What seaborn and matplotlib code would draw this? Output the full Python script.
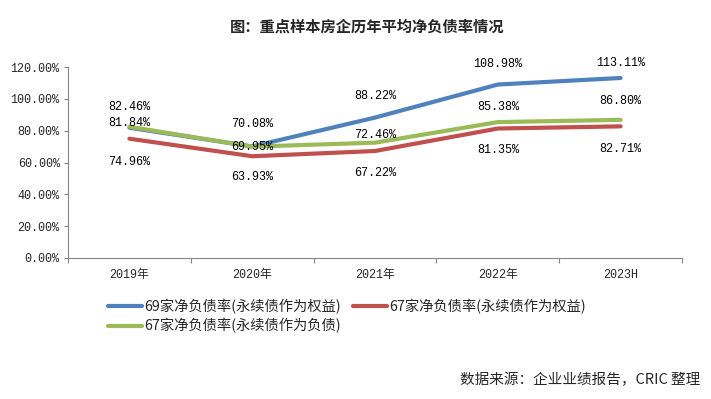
import pandas as pd
import matplotlib
matplotlib.use("Agg")
import matplotlib.pyplot as plt
from matplotlib.lines import Line2D
from matplotlib.ticker import FixedLocator
import seaborn as sns

# chart data
years = ["2019年", "2020年", "2021年", "2022年", "2023H"]
series_names = ["69家净负债率(永续债作为权益)", "67家净负债率(永续债作为权益)", "67家净负债率(永续债作为负债)"]
blue_vals = [81.84, 70.08, 88.22, 108.98, 113.11]
red_vals = [74.96, 63.93, 67.22, 81.35, 82.71]
green_vals = [82.46, 69.95, 72.46, 85.38, 86.80]

colors = ["#4F81BD", "#C0504D", "#9BBB59"]
# label offsets in pixels (vertical), per series
label_dy = [
    [5, 22, 22, 21, 15],
    [-23, -21, -22, -21, -23],
    [20, 0, 8, 15, 19],
]

sns.set_theme(style="white")
num_font = ["Liberation Mono", "Noto Sans CJK SC"]
cjk_font = ["Noto Sans CJK SC", "DejaVu Sans"]
plt.rcParams["font.family"] = cjk_font

df = pd.DataFrame({
    "year": years * 3,
    "value": blue_vals + red_vals + green_vals,
    "series": [series_names[0]] * 5 + [series_names[1]] * 5 + [series_names[2]] * 5,
})

fig = plt.figure(figsize=(7.11, 3.99), dpi=100)
ax = fig.add_axes([68 / 711, 1 - 258 / 399, 614 / 711, 191 / 399])

sns.lineplot(data=df, x="year", y="value", hue="series", hue_order=series_names,
             palette=colors, linewidth=3, ax=ax, legend=False, sort=False)

# data labels
for vals, dys in zip([blue_vals, red_vals, green_vals], label_dy):
    for i, (v, dy) in enumerate(zip(vals, dys)):
        ax.annotate(f"{v:.2f}%", xy=(i, v), xytext=(0, dy), textcoords="offset pixels",
                    ha="center", va="center", fontsize=8.5, family=num_font, color="black")

ax.set_xlim(-0.5, 4.5)
ax.set_ylim(0, 120)
ax.set_yticks(range(0, 121, 20))
ax.set_yticklabels([f"{t:.2f}%" for t in range(0, 121, 20)], family=num_font, fontsize=8.5)
ax.set_xticks(range(len(years)))
ax.set_xticklabels(years, family=num_font, fontsize=8.5)
ax.xaxis.set_minor_locator(FixedLocator([-0.5, 0.5, 1.5, 2.5, 3.5, 4.5]))
ax.tick_params(axis="x", which="major", length=0, pad=8)
ax.tick_params(axis="x", which="minor", length=3.6, width=0.8, color="#868686", direction="out", bottom=True)
ax.tick_params(axis="y", length=3, width=0.8, color="#868686", direction="out", left=True, pad=3)
ax.set_xlabel("")
ax.set_ylabel("")
for s in ["top", "right"]:
    ax.spines[s].set_visible(False)
for s in ["left", "bottom"]:
    ax.spines[s].set_color("#868686")
    ax.spines[s].set_linewidth(0.8)

fig.text(367 / 711, 1 - 27 / 399, "图：重点样本房企历年平均净负债率情况", ha="center", va="center",
         fontsize=11, fontweight="bold", family=cjk_font)

handles = [Line2D([0], [0], color=colors[0], lw=3),
           Line2D([0], [0], color=colors[2], lw=3),
           Line2D([0], [0], color=colors[1], lw=3)]
labels = [series_names[0], series_names[2], series_names[1]]
fig.legend(handles, labels, ncol=2, loc="upper left", bbox_to_anchor=(108 / 711, 1 - 299 / 399),
           frameon=False, fontsize=10.3, handlelength=2.4, handletextpad=0.15,
           columnspacing=0.8, labelspacing=0.3, borderpad=0, borderaxespad=0)

fig.text(700 / 711, 1 - 380 / 399, "数据来源：企业业绩报告，CRIC 整理", ha="right", va="center",
         fontsize=10.5, family=cjk_font)

fig.savefig("out.png", dpi=100)
